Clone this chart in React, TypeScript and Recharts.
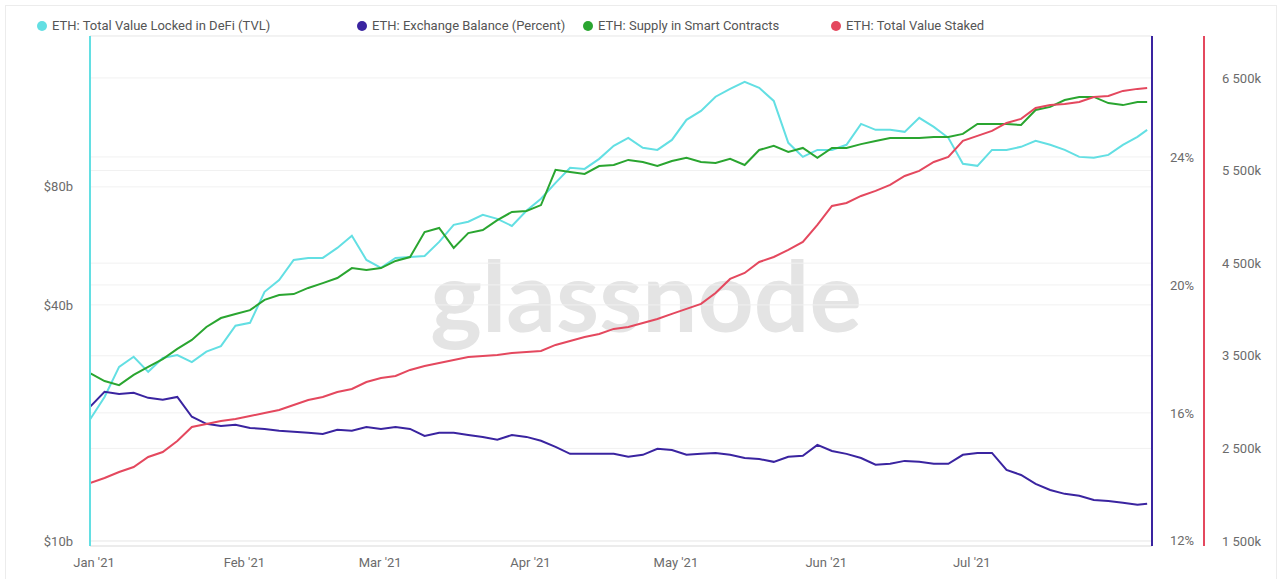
import React from 'react';
import { LineChart, Line, XAxis, YAxis, CartesianGrid } from 'recharts';

// days since 1 Jan 2021
const days = [
   0, 3, 6, 9, 12, 15, 18, 21, 24, 27, 30, 33, 36, 39, 42, 45, 48, 51, 54, 57, 60, 63, 66, 69, 72,
   75, 78, 81, 84, 87, 90, 93, 96, 99, 102, 105, 108, 111, 114, 117, 120, 123, 126, 129, 132, 135,
   138, 141, 144, 147, 150, 153, 156, 159, 162, 165, 168, 171, 174, 177, 180, 183, 186, 189, 192,
   195, 198, 201, 204, 207, 210, 213, 216, 218
];

// $b, log axis
const tvl = [
   20.4, 23.3, 27.8, 29.5, 27.0, 29.3, 29.8, 28.6, 30.4, 31.4,
   35.4, 36.0, 43.2, 46.3, 52.1, 52.7, 52.7, 55.9, 60.0, 52.1,
   49.7, 52.7, 53.0, 53.3, 57.9, 64.0, 65.2, 67.9, 66.3, 63.6,
   69.5, 74.6, 81.9, 89.5, 88.9, 94.3, 101.8, 106.7, 100.6, 99.4,
   105.4, 118.6, 125.0, 135.8, 142.2, 148.2, 143.1, 132.5, 103.6, 95.4,
   99.4, 99.4, 102.4, 115.8, 111.8, 111.8, 110.5, 120.0, 113.8, 106.7,
   91.6, 90.5, 99.4, 99.4, 101.2, 104.8, 102.4, 99.4, 95.4, 94.9,
   96.5, 102.4, 107.3, 111.8
];

// % of supply on exchanges
const exchangeBalance = [
   16.19, 16.66, 16.59, 16.63, 16.47, 16.41, 16.5, 15.88, 15.66, 15.59,
   15.63, 15.53, 15.5, 15.44, 15.41, 15.38, 15.34, 15.47, 15.44, 15.56,
   15.5, 15.56, 15.5, 15.28, 15.38, 15.38, 15.31, 15.25, 15.16, 15.31,
   15.25, 15.13, 14.94, 14.72, 14.72, 14.72, 14.72, 14.63, 14.69, 14.88,
   14.84, 14.69, 14.72, 14.75, 14.69, 14.59, 14.56, 14.47, 14.63, 14.66,
   15.0, 14.81, 14.72, 14.59, 14.38, 14.41, 14.5, 14.47, 14.41, 14.41,
   14.69, 14.75, 14.75, 14.22, 14.06, 13.78, 13.59, 13.47, 13.41, 13.28,
   13.25, 13.19, 13.13, 13.16
];

// M ETH (own hidden axis)
const smartContractSupply = [
   16.78, 16.47, 16.31, 16.71, 17.02, 17.33, 17.73, 18.08, 18.59, 18.94,
   19.1, 19.25, 19.65, 19.84, 19.88, 20.12, 20.31, 20.51, 20.9, 20.82,
   20.9, 21.18, 21.33, 22.31, 22.47, 21.69, 22.27, 22.39, 22.78, 23.1,
   23.14, 23.37, 24.75, 24.67, 24.59, 24.9, 24.94, 25.14, 25.06, 24.9,
   25.1, 25.22, 25.06, 25.02, 25.18, 24.94, 25.53, 25.69, 25.45, 25.61,
   25.22, 25.61, 25.61, 25.76, 25.88, 26.0, 26.0, 26.0, 26.04, 26.04,
   26.16, 26.55, 26.55, 26.55, 26.51, 27.1, 27.22, 27.49, 27.61, 27.61,
   27.37, 27.29, 27.41, 27.41
];

// k ETH
const staked = [
   2126, 2180, 2245, 2299, 2407, 2461, 2580, 2731, 2764, 2796,
   2818, 2850, 2882, 2915, 2969, 3023, 3055, 3109, 3142, 3217,
   3260, 3282, 3347, 3390, 3422, 3455, 3487, 3498, 3509, 3530,
   3541, 3552, 3617, 3660, 3703, 3736, 3790, 3811, 3854, 3898,
   3952, 4006, 4060, 4178, 4330, 4394, 4513, 4567, 4643, 4729,
   4913, 5118, 5150, 5226, 5280, 5345, 5442, 5496, 5593, 5647,
   5820, 5874, 5928, 6014, 6058, 6176, 6209, 6220, 6241, 6295,
   6306, 6360, 6382, 6392
];

const monthTicks = [0, 31, 59, 90, 120, 151, 181];
const monthLabels = ["Jan '21", "Feb '21", "Mar '21", "Apr '21", "May '21", "Jun '21", "Jul '21"];
const tvlTicks = [10, 40, 80];
const pctTicks = [12, 16, 20, 24];
const stakedTicks = [1500, 2500, 3500, 4500, 5500, 6500];

const seriesNames = [
   'ETH: Total Value Locked in DeFi (TVL)',
   'ETH: Exchange Balance (Percent)',
   'ETH: Supply in Smart Contracts',
   'ETH: Total Value Staked'
];

const CYAN = '#63dfe3';
const PURPLE = '#3a24a0';
const GREEN = '#2aa530';
const RED = '#e4485e';
const seriesColors = [CYAN, PURPLE, GREEN, RED];
const legendLeft = [37, 357, 583, 831];

const data = days.map((day, i) => ({
   day,
   tvl: tvl[i],
   exchange: exchangeBalance[i],
   supply: smartContractSupply[i],
   staked: staked[i]
}));

const tickStyle = { fill: '#6b6b6b', fontSize: 13 };

const fmtStaked = (v: number) => `${Math.floor(v / 1000)} ${String(v % 1000).padStart(3, '0')}k`;

export default function App() {
   return (
      <div
         style={{
            position: 'absolute',
            left: 0,
            top: 0,
            width: 1284,
            height: 579,
            background: '#fff',
            fontFamily: 'Roboto, sans-serif',
            overflow: 'hidden'
         }}
      >
         <div
            style={{
               position: 'absolute',
               left: 5,
               top: 5,
               width: 1272,
               height: 590,
               border: '1px solid #ececec',
               boxSizing: 'border-box'
            }}
         />
         {/* watermark */}
         <div
            style={{
               position: 'absolute',
               left: 0,
               width: 1284,
               top: 234,
               textAlign: 'center',
               fontFamily: 'Lato, sans-serif',
               fontWeight: 700,
               fontSize: 98,
               lineHeight: '120px',
               color: '#e4e4e4',
               paddingLeft: 4
            }}
         >
            glassnode
         </div>
         {seriesNames.map((name, i) => (
            <div
               key={name}
               style={{
                  position: 'absolute',
                  left: legendLeft[i],
                  top: 18,
                  display: 'flex',
                  alignItems: 'center',
                  fontSize: 13,
                  color: '#555'
               }}
            >
               <span
                  style={{
                     width: 10,
                     height: 10,
                     borderRadius: 5,
                     background: seriesColors[i],
                     marginRight: 5,
                     display: 'inline-block'
                  }}
               />
               {name}
            </div>
         ))}
         <div style={{ position: 'absolute', left: 0, top: 0 }}>
            <LineChart width={1284} height={579} data={data} margin={{ top: 36, right: 14, bottom: 0, left: 0 }}>
               <CartesianGrid yAxisId='staked' vertical={false} stroke='#f1f1f1' />
               <CartesianGrid yAxisId='pct' vertical={false} stroke='#f1f1f1' />
               <CartesianGrid yAxisId='tvl' vertical={false} stroke='#f1f1f1' />
               <XAxis
                  dataKey='day'
                  type='number'
                  domain={[0, 219]}
                  ticks={monthTicks}
                  tickFormatter={(v) => monthLabels[monthTicks.indexOf(v)]}
                  tick={{ ...tickStyle, dx: 4 }}
                  tickLine={false}
                  tickMargin={6}
                  axisLine={{ stroke: '#e6e6e6' }}
                  height={33}
                  allowDataOverflow
               />
               <YAxis
                  yAxisId='tvl'
                  orientation='left'
                  width={90}
                  type='number'
                  scale='log'
                  domain={[9.71, 194]}
                  ticks={tvlTicks}
                  tickFormatter={(v) => `$${v}b`}
                  tick={tickStyle}
                  tickLine={false}
                  tickSize={0}
                  tickMargin={17}
                  axisLine={{ stroke: CYAN, strokeWidth: 2 }}
                  allowDataOverflow
               />
               <YAxis
                  yAxisId='pct'
                  orientation='right'
                  width={52}
                  type='number'
                  domain={[11.84, 27.78]}
                  ticks={pctTicks}
                  tickFormatter={(v) => `${v}%`}
                  tick={tickStyle}
                  tickLine={false}
                  tickSize={0}
                  tickMargin={18}
                  axisLine={{ stroke: PURPLE, strokeWidth: 2 }}
                  allowDataOverflow
               />
               <YAxis
                  yAxisId='staked'
                  orientation='right'
                  width={66}
                  type='number'
                  domain={[1446, 6953]}
                  ticks={stakedTicks}
                  tickFormatter={fmtStaked}
                  tick={tickStyle}
                  tickLine={false}
                  tickSize={0}
                  tickMargin={18}
                  axisLine={{ stroke: RED, strokeWidth: 2 }}
                  allowDataOverflow
               />
               <YAxis yAxisId='supply' hide width={0} type='number' domain={[10, 30]} allowDataOverflow />
               <Line yAxisId='tvl' dataKey='tvl' stroke={CYAN} strokeWidth={2} dot={false} isAnimationActive={false} />
               <Line yAxisId='pct' dataKey='exchange' stroke={PURPLE} strokeWidth={2} dot={false} isAnimationActive={false} />
               <Line yAxisId='supply' dataKey='supply' stroke={GREEN} strokeWidth={2} dot={false} isAnimationActive={false} />
               <Line yAxisId='staked' dataKey='staked' stroke={RED} strokeWidth={2} dot={false} isAnimationActive={false} />
            </LineChart>
         </div>
      </div>
   );
}
